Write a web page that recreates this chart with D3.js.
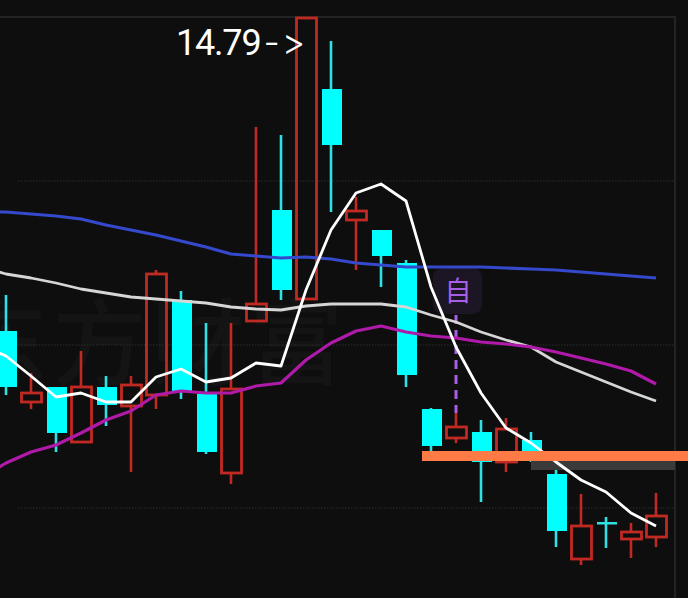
<!DOCTYPE html>
<html><head><meta charset="utf-8">
<script src="https://cdnjs.cloudflare.com/ajax/libs/d3/7.8.5/d3.min.js"></script>
<style>html,body{margin:0;padding:0;background:#0e0e0e;overflow:hidden}svg{display:block}</style>
</head><body><svg id="c" width="688" height="598"></svg>
<script>
const highs=[12.02,11.24,11.10,11.46,11.21,11.21,12.27,12.06,11.74,11.74,13.70,13.62,14.79,14.56,13.00,12.67,12.37,10.89,10.84,10.77,10.79,10.65,10.27,10.03,9.80,9.74,10.04];
const opens=[11.66,10.95,11.10,10.55,11.10,10.91,11.02,11.97,11.03,10.24,11.76,12.87,11.98,14.08,12.77,12.67,12.34,10.88,10.59,10.65,10.35,10.57,10.23,9.38,9.75,9.58,9.60];
const closes=[11.10,11.04,10.64,11.10,10.92,11.12,12.23,11.06,10.45,11.08,11.93,12.07,14.79,13.52,12.86,12.41,11.22,10.51,10.70,10.35,10.68,10.36,9.66,9.71,9.74,9.65,9.81];
const lows=[11.02,10.88,10.45,10.54,10.71,10.25,10.88,10.98,10.43,10.13,11.76,11.97,11.98,12.85,12.27,12.10,11.10,10.42,10.54,9.95,10.25,10.35,9.50,9.32,9.49,9.39,9.50];
const maWhite=[11.52,11.41,11.21,11.00,11.04,10.95,10.95,11.20,11.28,11.15,11.19,11.34,11.31,12.07,12.67,13.04,13.13,12.96,12.10,11.50,11.04,10.69,10.54,10.35,10.17,10.05,9.84,9.71];
const maBlue=[12.85,12.85,12.83,12.81,12.78,12.72,12.67,12.62,12.56,12.50,12.43,12.41,12.39,12.40,12.38,12.34,12.32,12.30,12.30,12.30,12.30,12.29,12.28,12.27,12.25,12.23,12.21,12.19];
const maGray=[12.30,12.23,12.19,12.14,12.08,12.04,12.00,11.98,11.96,11.94,11.90,11.88,11.87,11.91,11.93,11.93,11.93,11.90,11.82,11.75,11.65,11.57,11.50,11.35,11.25,11.15,11.05,10.96];
const maPurple=[10.19,10.34,10.45,10.52,10.64,10.77,10.86,11.02,11.06,11.04,11.04,11.11,11.14,11.37,11.54,11.66,11.71,11.65,11.61,11.59,11.55,11.53,11.50,11.45,11.39,11.33,11.26,11.13];
const gridPrices=[13.16,11.52,9.89];
const watermark=["东","方","财","富"];
const annotationValue="14.79";
const annotationArrow="->";
const tagText="自";
const tagPrice=10.84;
const supportPrice=10.46;

const x=d3.scaleLinear().domain([0,27]).range([-19,656]);
const y=d3.scaleLinear().domain([14.79,9.89]).range([18,508]);
const svg=d3.select("#c");
const BG="#0e0e0e",RED="#c02a22",CY="#00ffff",CYW="#2fe0e4";

svg.append("rect").attr("width",688).attr("height",598).attr("fill",BG);
svg.append("g").selectAll("text").data(watermark).join("text")
 .attr("x",(d,i)=>-46+i*98.5).attr("y",378).attr("font-family","'Noto Sans CJK SC'").attr("font-size",94)
 .attr("font-weight",500).attr("fill","#141414").text(d=>d);
svg.append("line").attr("x1",0).attr("x2",676).attr("y1",17).attr("y2",17).attr("stroke","#232323").attr("stroke-width",2);
svg.append("line").attr("x1",675).attr("x2",675).attr("y1",16).attr("y2",598).attr("stroke","#232323").attr("stroke-width",2);
svg.append("g").selectAll("line").data(gridPrices).join("line")
 .attr("x1",18).attr("x2",675).attr("y1",d=>y(d)).attr("y2",d=>y(d))
 .attr("stroke","#2c2c2c").attr("stroke-width",1).attr("stroke-dasharray","1.5 1.5");

const idx=d3.range(highs.length);
const g=svg.append("g");
idx.forEach(i=>{
  const cx=x(i+1),up=closes[i]>=opens[i],top=Math.max(opens[i],closes[i]),bot=Math.min(opens[i],closes[i]);
  const col=up?RED:CYW;
  g.append("line").attr("x1",cx).attr("x2",cx).attr("y1",y(highs[i])).attr("y2",y(top)).attr("stroke",col).attr("stroke-width",2.6);
  g.append("line").attr("x1",cx).attr("x2",cx).attr("y1",y(bot)).attr("y2",y(lows[i])).attr("stroke",col).attr("stroke-width",2.6);
  if(up){
    g.append("rect").attr("x",cx-9.5).attr("width",20).attr("y",y(top)).attr("height",y(bot)-y(top))
     .attr("fill","none").attr("stroke",RED).attr("stroke-width",2.8);
  }else{
    g.append("rect").attr("x",cx-9).attr("width",20).attr("y",y(top)).attr("height",Math.max(y(bot)-y(top),2.5))
     .attr("fill",i==24?CYW:CY);
  }
});
svg.append("rect").attr("x",433).attr("y",268).attr("width",49).attr("height",46).attr("rx",9).attr("fill","#1c1524");
svg.append("line").attr("x1",x(19)).attr("x2",x(19)).attr("y1",315).attr("y2",y(tagPrice))
 .attr("stroke","#a65fe6").attr("stroke-width",3).attr("stroke-dasharray","9 6");
svg.append("text").attr("x",458).attr("y",301).attr("text-anchor","middle").attr("font-family","'Noto Sans CJK SC'")
 .attr("font-size",27).attr("fill","#a65fe6").text(tagText);
svg.append("rect").attr("x",531).attr("width",144).attr("y",461).attr("height",9).attr("fill","#3a3a3a");

const line=d3.line().x((d,i)=>x(i)).y(d=>y(d));
[[maBlue,"#3549cc",3.2],[maGray,"#d6d6d6",2.8],[maPurple,"#b01aa8",3.2],[maWhite,"#ffffff",2.8]].forEach(([d,c,w])=>{
  svg.append("path").attr("d",line(d)).attr("fill","none").attr("stroke",c).attr("stroke-width",w).attr("stroke-linejoin","round");
});
svg.append("rect").attr("x",422).attr("width",266).attr("y",y(supportPrice)).attr("height",10).attr("fill","#ff7b45");
const t=svg.append("text").attr("x",176).attr("y",55).attr("fill","#fff").attr("font-size",36);
t.append("tspan").attr("font-family","Roboto").attr("letter-spacing",-1.2).text(annotationValue);
t.append("tspan").attr("font-family","Inter").attr("font-weight",300).attr("dx",3)
 .style("font-feature-settings","'calt' 0,'liga' 0").style("font-variant-ligatures","none").attr("letter-spacing",2).text(annotationArrow);
</script></body></html>
